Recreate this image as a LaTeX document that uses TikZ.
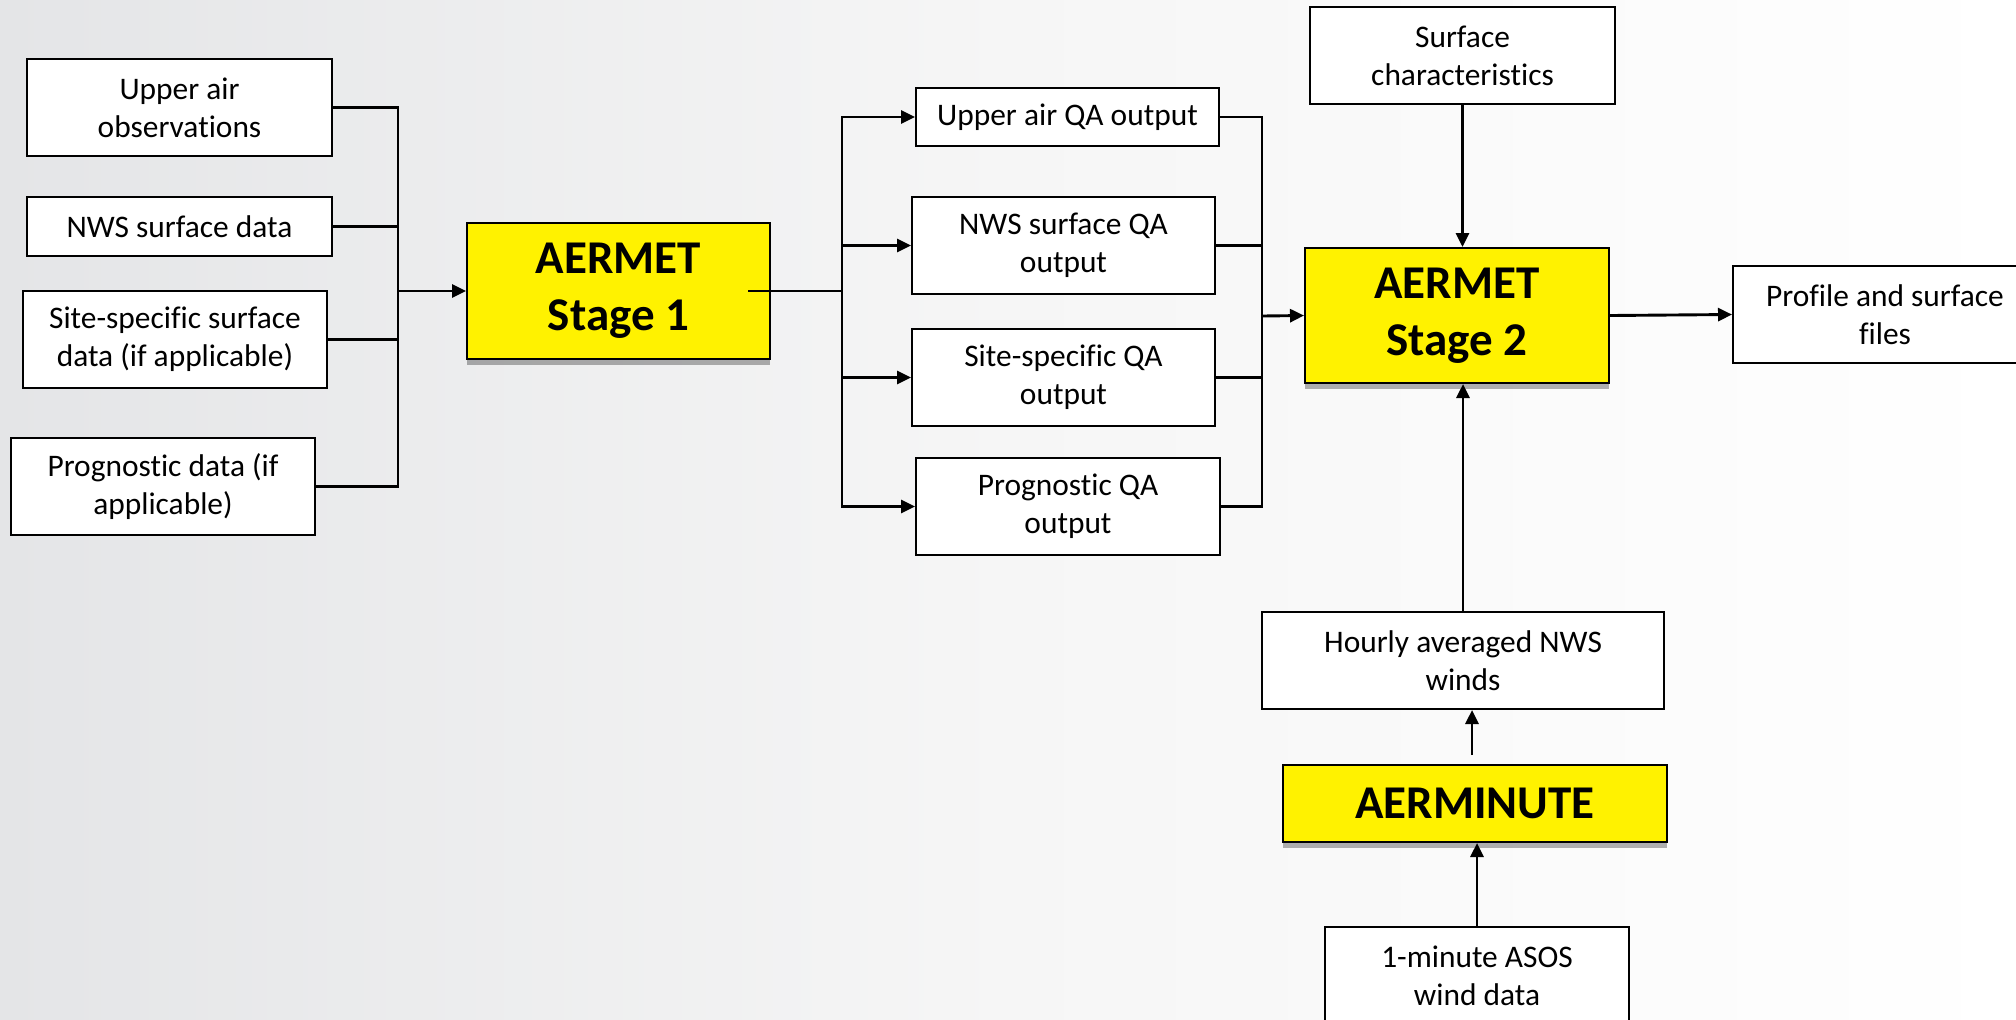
\documentclass[tikz,border=0pt]{standalone}
\usepackage{fontspec}
\setmainfont{Carlito}[Ligatures={NoCommon}]
\usetikzlibrary{arrows.meta,shadows,calc}
\definecolor{bgL}{RGB}{228,229,231}
\definecolor{bgM}{RGB}{246,246,246}
\tikzset{
  box/.style 2 args={draw=black, line width=1pt, fill=white, minimum width={#1*0.5pt}, minimum height={#2*0.5pt}, align=center, inner sep=0pt, font=\fontsize{15.7}{19}\selectfont},
  stagebox/.style 2 args={box={#1}{#2}, fill=yellow, font=\fontsize{23.5}{28.5}\selectfont\bfseries, drop shadow={shadow xshift=0pt, shadow yshift=-3pt, opacity=0.3, fill=black}},
  conn/.style={line width=1.45pt, draw=black},
  arr/.style={conn, -{Triangle[length=7pt,width=6.5pt]}}
}
\begin{document}
\begin{tikzpicture}[x=0.5pt,y=-0.5pt]
\shade[left color=bgL, right color=white, middle color=bgM] (0,0) rectangle (2016,1019);
\useasboundingbox (0,0) rectangle (2016,1019);
% inputs
\node[box={305}{97}] (ua) at (179.5,107.5) {Upper air\\observations};
\node[box={305}{59}] (nws) at (179.5,226.5) {NWS surface data};
\node[box={304}{97}] (site) at (175,339.5) {Site-specific surface\\data (if applicable)};
\node[box={304}{97}] (prog) at (163,486.5) {Prognostic data (if\\applicable)};
\node[stagebox={303}{136}] (s1) at (618.5,291) {AERMET\\Stage 1};
% QA outputs
\node[box={303}{58}] (uaqa) at (1067.5,117) {Upper air QA output};
\node[box={303}{97}] (nwsqa) at (1063.5,245.5) {NWS surface QA\\output};
\node[box={303}{97}] (siteqa) at (1063.5,377.5) {Site-specific QA\\output};
\node[box={304}{97}] (progqa) at (1068,506.5) {Prognostic QA\\output};
% stage 2
\node[stagebox={304}{135}] (s2) at (1457,315.5) {AERMET\\Stage 2};
\node[box={305}{97}] (surf) at (1462.5,55.5) {Surface\\characteristics};
\node[box={304}{97}] (prof) at (1885,314.5) {Profile and surface\\files};
\node[box={402}{97}] (hourly) at (1463,660.5) {Hourly averaged NWS\\winds};
\node[stagebox={384}{77}] (aerm) at (1475,803.5) {AERMINUTE};
\node[box={304}{97}] (asos) at (1477,975.5) {1-minute ASOS\\wind data};
% coordinates
\coordinate (busL) at (398,291);
\coordinate (split) at (842,291);
\coordinate (merge) at (1262,316);
% left bus
\draw[conn] (ua.east) -| (busL);
\draw[conn] (nws.east) -| (busL);
\draw[conn] (site.east) -| (busL);
\draw[conn] (prog.east) -| (busL);
\draw[arr] (busL) -- (s1.west);
% stage 1 out
\draw[conn] ($(s1.east)+(-23,0)$) -- (split);
\draw[arr] (split) |- (uaqa.west);
\draw[arr] (split) |- (nwsqa.west);
\draw[arr] (split) |- (siteqa.west);
\draw[arr] (split) |- (progqa.west);
% right bus
\draw[conn] (uaqa.east) -| (merge);
\draw[conn] (nwsqa.east) -| (merge);
\draw[conn] (siteqa.east) -| (merge);
\draw[conn] (progqa.east) -| (merge);
\draw[arr] (merge) -- (s2.west);
% stage 2 connections
\draw[arr] (surf.south) -- (surf.south |- s2.north);
\draw[arr] (s2.east) -- (prof.west);
\draw[arr] (hourly.north) -- (hourly.north |- s2.south);
\draw[arr] ($(aerm.north)+(-3,-9)$) -- ($(aerm.north |- hourly.south)+(-3,0)$);
\draw[arr] (asos.north) -- (asos.north |- aerm.south);
\end{tikzpicture}
\end{document}
